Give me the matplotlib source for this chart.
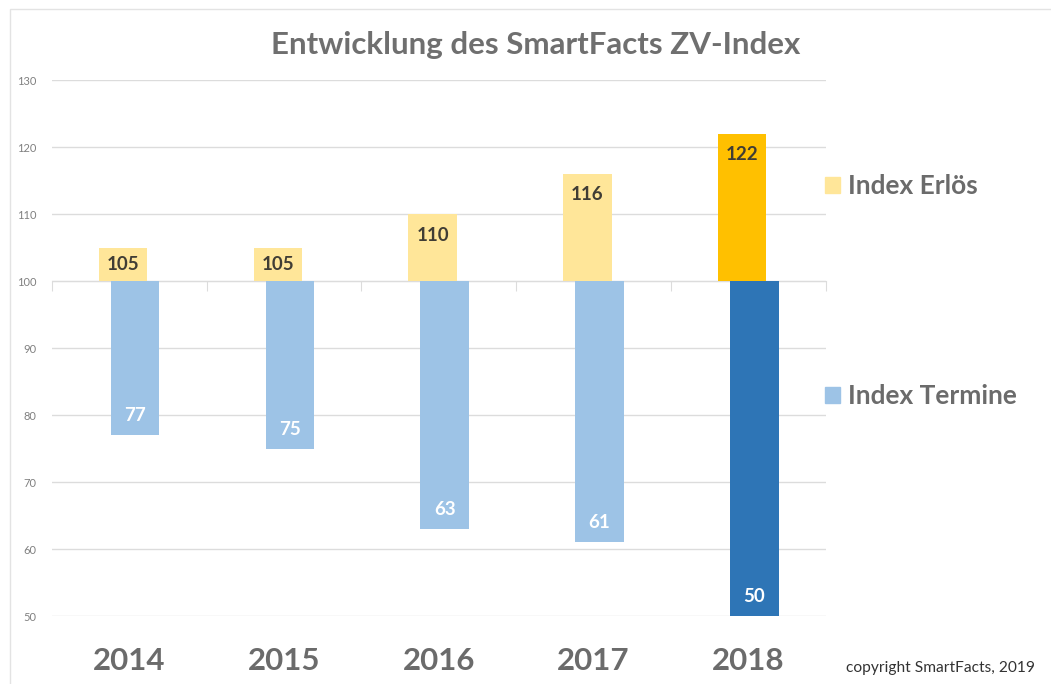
import matplotlib.pyplot as plt
from matplotlib.patches import Patch, Rectangle

# Daten
jahre = ['2014', '2015', '2016', '2017', '2018']
index_erloes = [105, 105, 110, 116, 122]
index_termine = [77, 75, 63, 61, 50]
basis = 100

farbe_erloes = ['#FFE699', '#FFE699', '#FFE699', '#FFE699', '#FFC000']
farbe_termine = ['#9DC3E6', '#9DC3E6', '#9DC3E6', '#9DC3E6', '#2E75B6']

plt.rcParams['font.family'] = ['Lato', 'DejaVu Sans']

fig = plt.figure(figsize=(10.51, 6.84), dpi=100)
ax = fig.add_axes([0.0492, 0.0994, 0.7364, 0.7836])

# leichter Rahmen um das Diagramm
fig.patches.append(Rectangle((10 / 1051, -0.1), 1.2, 1 - 9 / 684 + 0.1,
                             transform=fig.transFigure, fill=False,
                             edgecolor='#e3e3e3', lw=1))

x = list(range(len(jahre)))
breite = 0.313
versatz = 0.039

ax.bar([i - versatz for i in x], [v - basis for v in index_erloes], breite,
       bottom=basis, color=farbe_erloes, zorder=3)
ax.bar([i + versatz for i in x], [v - basis for v in index_termine], breite,
       bottom=basis, color=farbe_termine, zorder=3)

# Werte in den Balken
for i, v in enumerate(index_erloes):
    y = v - min(3.15, (v - basis) / 2)
    ax.text(i - versatz, y, str(v), ha='center', va='center',
            fontsize=13.5, fontweight='bold', color='#403d35', zorder=4)
for i, v in enumerate(index_termine):
    ax.text(i + versatz, v + 2.9, str(v), ha='center', va='center',
            fontsize=13.5, fontweight='bold', color='white', zorder=4)

ax.set_xlim(-0.5, len(jahre) - 0.5)
ax.set_ylim(50, 130)
ax.set_yticks(range(50, 131, 10))
ax.yaxis.grid(True, color='#dcdcdc', lw=1, zorder=0)
ax.tick_params(axis='y', length=0, pad=11, labelsize=8, labelcolor='#808080')

# Kategorieachse liegt bei 100
ax.spines['bottom'].set_position(('data', basis))
ax.spines['bottom'].set_color('#dcdcdc')
ax.spines['bottom'].set_zorder(2)
for s in ['top', 'right', 'left']:
    ax.spines[s].set_visible(False)
ax.set_xticks([i - 0.5 for i in range(len(jahre) + 1)])
ax.tick_params(axis='x', length=7, color='#dcdcdc', direction='out', labelbottom=False)

for i, j in enumerate(jahre):
    ax.text(i, -0.084, j, transform=ax.get_xaxis_transform(), ha='center', va='center',
            fontsize=22.5, fontweight='bold', color='#6b6b6b')

fig.text(0.51, 1 - 45 / 684, 'Entwicklung des SmartFacts ZV-Index', ha='center', va='center',
         fontsize=22.5, fontweight='bold', color='#6f6f6f')

legende = dict(loc='center left', frameon=False, handlelength=0.57, handleheight=0.57,
               handletextpad=0.32, borderpad=0, borderaxespad=0, labelcolor='#6b6b6b',
               prop={'weight': 'bold', 'size': 18.9})
fig.legend(handles=[Patch(color='#FFE699', label='Index Erlös')],
           bbox_to_anchor=(825 / 1051, 1 - 186 / 684), **legende)
fig.legend(handles=[Patch(color='#9DC3E6', label='Index Termine')],
           bbox_to_anchor=(825 / 1051, 1 - 396 / 684), **legende)

fig.text(0.985, 1 - 668 / 684, 'copyright SmartFacts, 2019', ha='right', va='center',
         fontsize=11.2, color='#333333')

fig.savefig('out.png', dpi=100)
